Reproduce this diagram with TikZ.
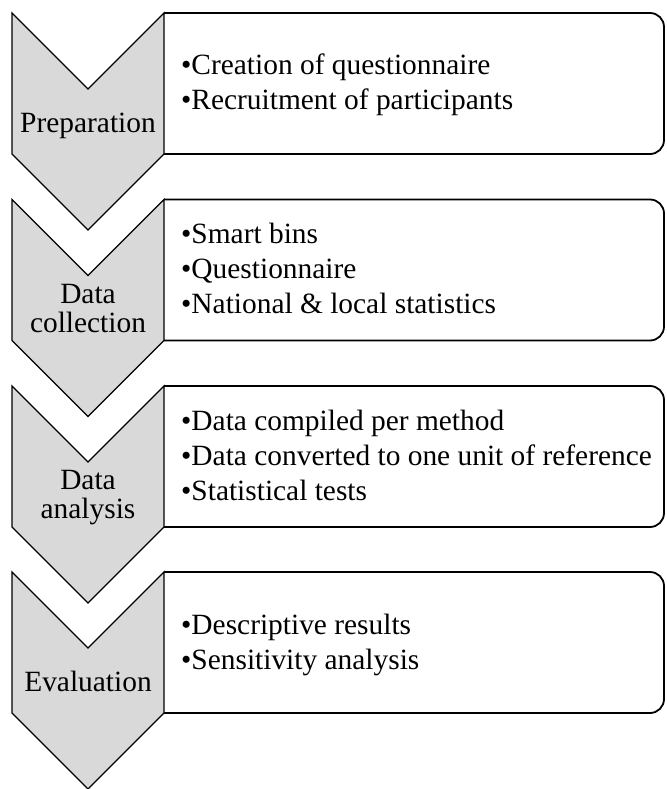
\documentclass[tikz,border=0pt]{standalone}
\usepackage{fontspec}
\setmainfont{Liberation Serif}
\definecolor{chevgray}{HTML}{D9D9D9}
\begin{document}
\begin{tikzpicture}[x=1pt,y=-1pt,
  chev/.style={draw=black, fill=chevgray, line width=1.3pt, line join=miter},
  infobox/.style={draw=black, line width=1.8pt, rounded corners=14pt},
  lbl/.style={font=\fontsize{29.4}{34}\selectfont, inner sep=0pt, anchor=base},
  itm/.style={font=\fontsize{29.4}{34}\selectfont, inner sep=0pt, anchor=base west}]
\useasboundingbox (0,0) rectangle (666,789);
% boxes and chevrons
\foreach \T in {13,199.5,386,572}{
  \draw[infobox] (164,\T) -- (664,\T) -- (664,\T+141) -- (164,\T+141);
  \draw[chev] (12,\T) -- (88,\T+76) -- (164,\T) -- (164,\T+141) -- (88,\T+217) -- (12,\T+141) -- cycle;
}
% chevron labels
\node[lbl] (l1) at (88,132.5) {Preparation};
\node[lbl] (l2a) at (88,303) {Data};
\node[lbl] (l2b) at (88,332) {collection};
\node[lbl] (l3a) at (88,489.5) {Data};
\node[lbl] (l3b) at (88,518.5) {analysis};
\node[lbl] (l4) at (88,691) {Evaluation};
% items
\node[itm] (i1a) at (181,75) {\textbullet Creation of questionnaire};
\node[itm] (i1b) at (181,110) {\textbullet Recruitment of participants};
\node[itm] (i2a) at (181,243.5) {\textbullet Smart bins};
\node[itm] (i2b) at (181,278.5) {\textbullet Questionnaire};
\node[itm] (i2c) at (181,313.5) {\textbullet National \& local statistics};
\node[itm] (i3a) at (181,430) {\textbullet Data compiled per method};
\node[itm] (i3b) at (181,465) {\textbullet Data converted to one unit of reference};
\node[itm] (i3c) at (181,500) {\textbullet Statistical tests};
\node[itm] (i4a) at (181,634) {\textbullet Descriptive results};
\node[itm] (i4b) at (181,669) {\textbullet Sensitivity analysis};
\end{tikzpicture}
\end{document}
